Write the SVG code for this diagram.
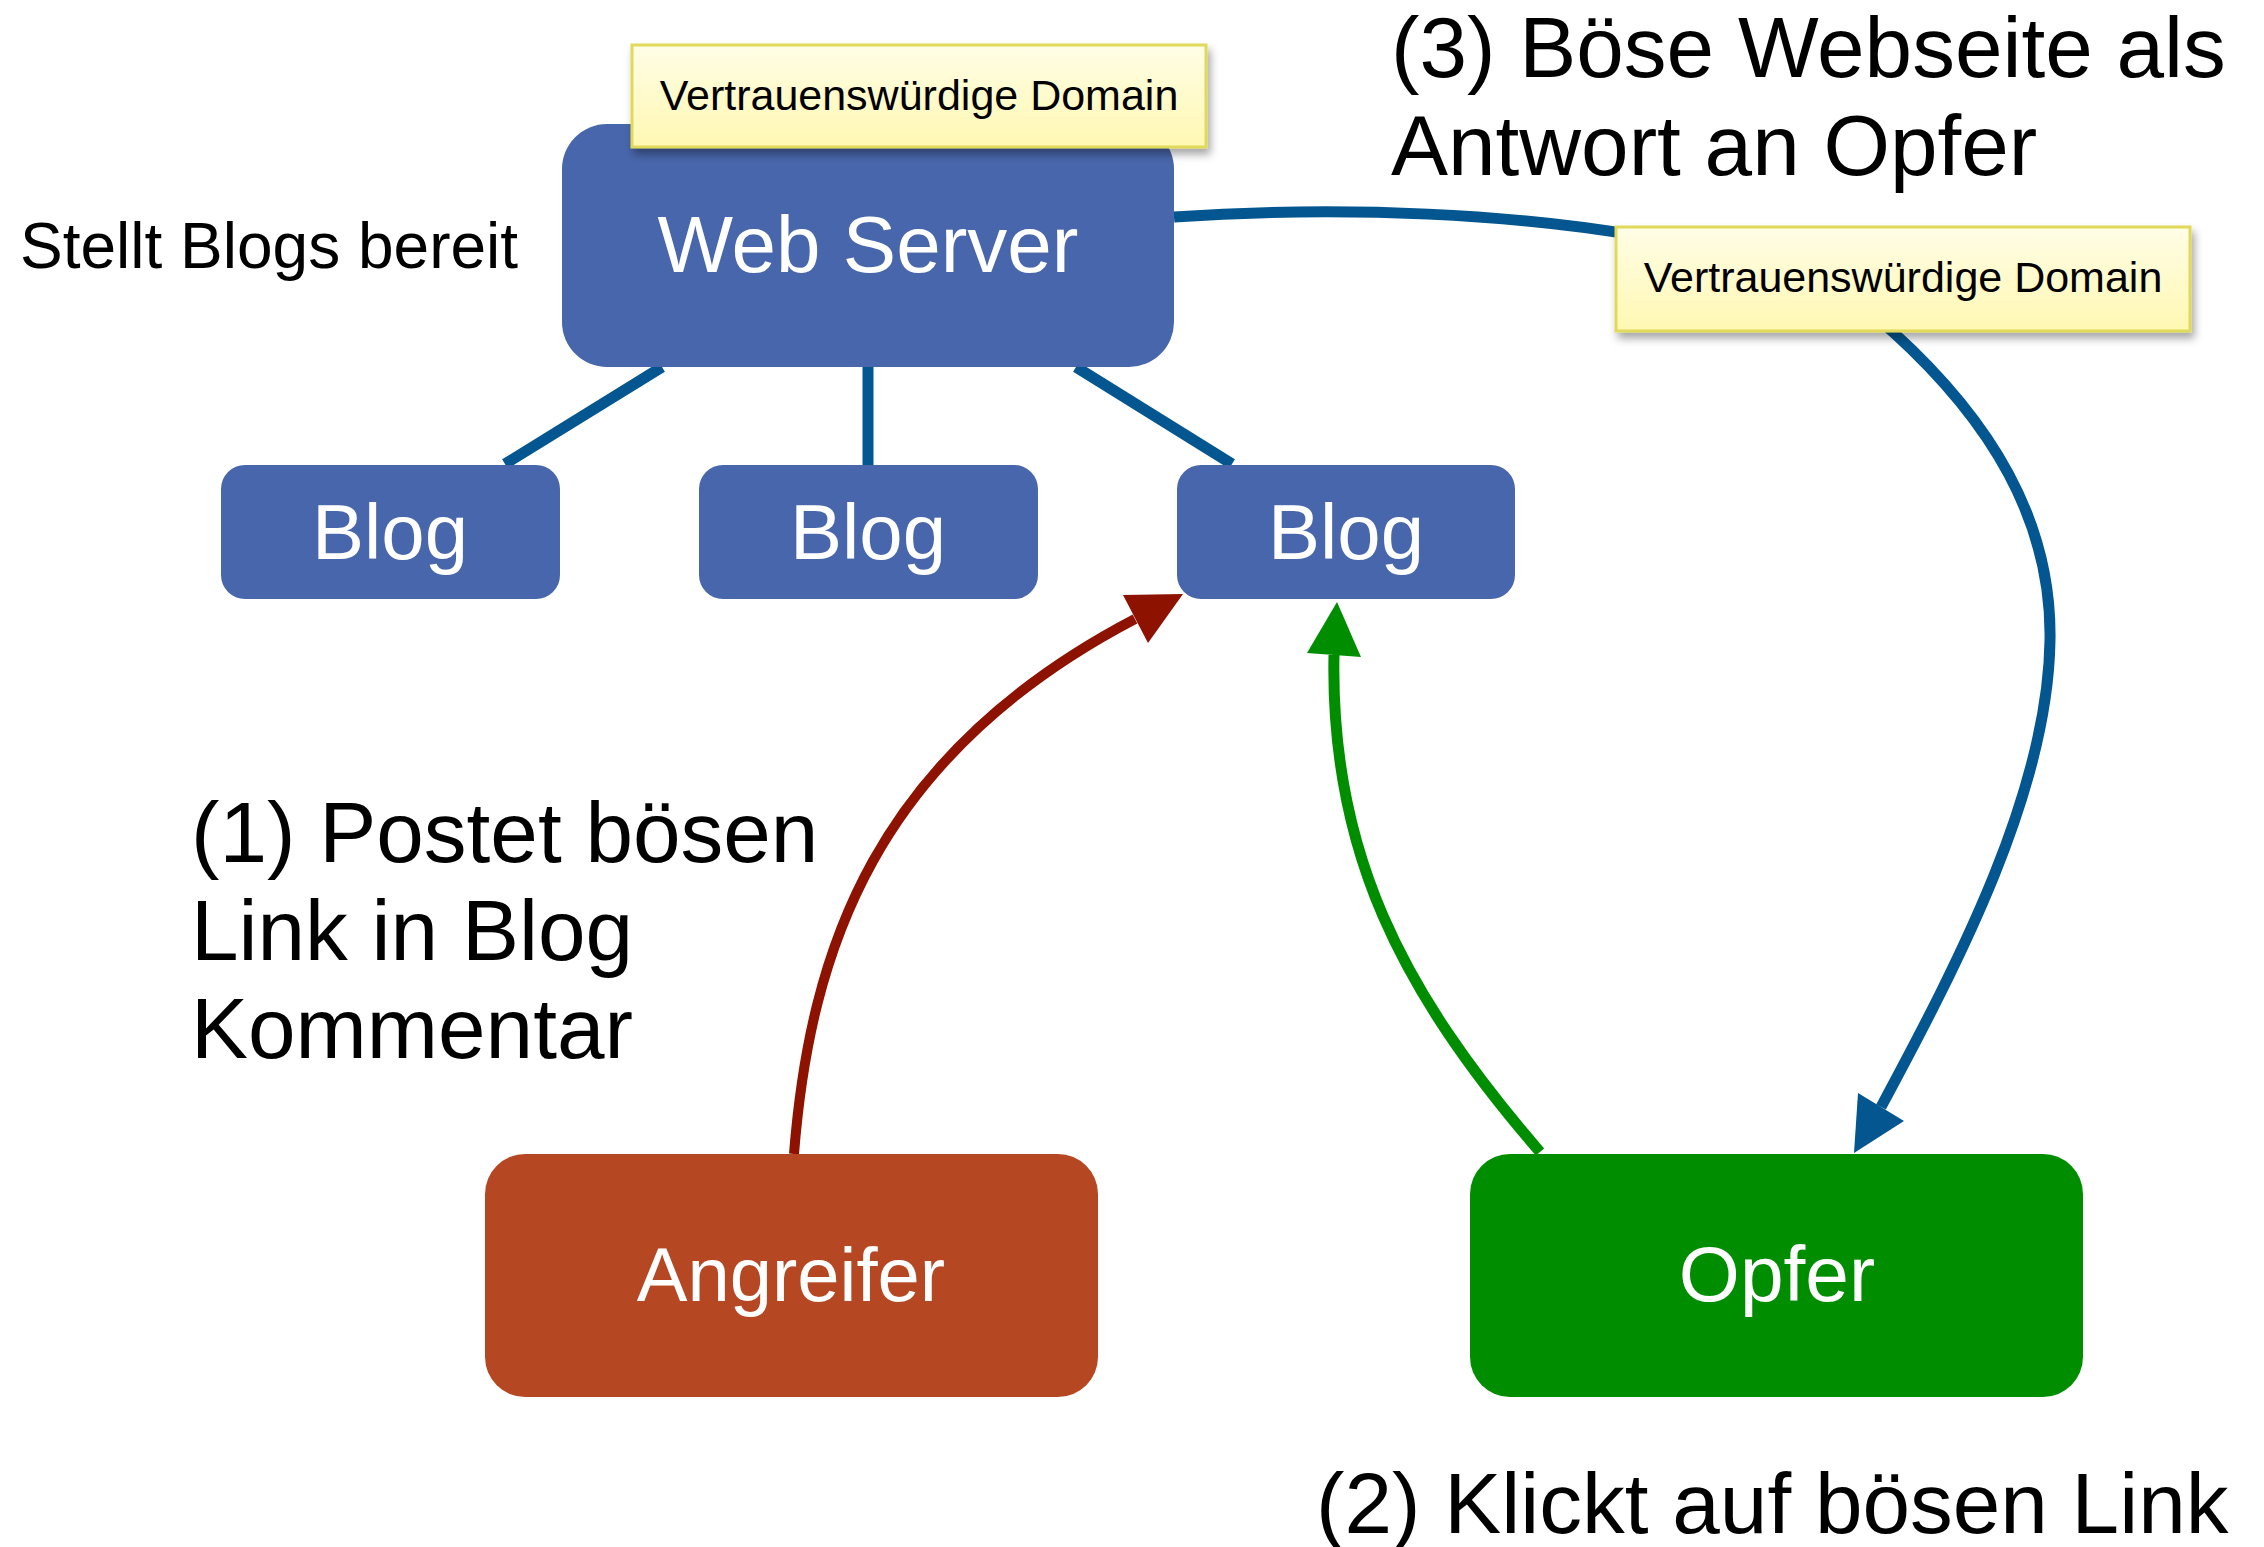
<svg xmlns="http://www.w3.org/2000/svg" width="2264" height="1547" viewBox="0 0 2264 1547">
<style>
  text { font-family: "Liberation Sans", Arial, sans-serif; }
  .box-blue { fill: #4866AB; }
  .wt { fill: #FFFFFF; text-anchor: middle; }
  .bt { fill: #000000; }
  .big { font-size: 85.5px; }
  .note { fill: url(#noteGrad); stroke: #E0D95A; stroke-width: 3; filter: url(#shadow); }
  .tree { stroke: #03568F; stroke-width: 11; fill: none; }
</style>
<defs>
  <linearGradient id="noteGrad" x1="0" y1="0" x2="0" y2="1">
    <stop offset="0" stop-color="#FFFDE6"/>
    <stop offset="1" stop-color="#FFF8B2"/>
  </linearGradient>
  <filter id="shadow" x="-10%" y="-20%" width="125%" height="160%">
    <feDropShadow dx="3" dy="6" stdDeviation="4" flood-color="#000000" flood-opacity="0.35"/>
  </filter>
</defs>
<rect width="2264" height="1547" fill="#FFFFFF"/>

<g id="connectors">
  <line class="tree" x1="662" y1="367" x2="505" y2="464"/>
  <line class="tree" x1="868" y1="367" x2="868" y2="465"/>
  <line class="tree" x1="1076" y1="367" x2="1232" y2="464"/>
  <path d="M1174,217 C1350,205 1520,215 1640,236 C1760,258 1850,290 1893,332 C1990,420 2052,520 2050,640 C2048,790 1960,960 1881,1107" stroke="#03568F" stroke-width="11" fill="none"/>
  <polygon points="1854,1153 1858,1093 1904,1121" fill="#03568F"/>
  <path d="M794,1154 C810,950 875,755 1135,619" stroke="#8E1200" stroke-width="10" fill="none"/>
  <polygon points="1183,594 1123,595 1148,643" fill="#8E1200"/>
  <path d="M1540,1152 C1400,990 1330,850 1334,655" stroke="#008E00" stroke-width="11" fill="none"/>
  <polygon points="1337,602 1307,653 1361,657" fill="#008E00"/>
</g>

<g id="webserver">
  <rect class="box-blue" x="562" y="124" width="612" height="243" rx="45"/>
  <text class="wt" x="868" y="272" font-size="80">Web Server</text>
</g>

<g id="label-domain-1">
  <rect class="note" x="632" y="45" width="574" height="102"/>
  <text class="bt" x="919" y="110" font-size="43" text-anchor="middle">Vertrauenswürdige Domain</text>
</g>

<g id="label-stellt">
  <text class="bt" x="20" y="268" font-size="64">Stellt Blogs bereit</text>
</g>

<g id="blog1">
  <rect class="box-blue" x="221" y="465" width="339" height="134" rx="24"/>
  <text class="wt" x="390" y="559" font-size="78">Blog</text>
</g>
<g id="blog2">
  <rect class="box-blue" x="699" y="465" width="339" height="134" rx="24"/>
  <text class="wt" x="868" y="559" font-size="78">Blog</text>
</g>
<g id="blog3">
  <rect class="box-blue" x="1177" y="465" width="338" height="134" rx="24"/>
  <text class="wt" x="1346" y="559" font-size="78">Blog</text>
</g>

<g id="label-domain-2">
  <rect class="note" x="1616" y="227" width="574" height="104"/>
  <text class="bt" x="1903" y="292" font-size="43" text-anchor="middle">Vertrauenswürdige Domain</text>
</g>

<g id="label-step3">
  <text class="bt big" x="1391" y="77">(3) Böse Webseite als</text>
  <text class="bt big" x="1391" y="175">Antwort an Opfer</text>
</g>

<g id="label-step1">
  <text class="bt big" x="191" y="862">(1) Postet bösen</text>
  <text class="bt big" x="191" y="960">Link in Blog</text>
  <text class="bt big" x="191" y="1058">Kommentar</text>
</g>

<g id="angreifer">
  <rect x="485" y="1154" width="613" height="243" rx="40" fill="#B54823"/>
  <text class="wt" x="791" y="1301" font-size="76">Angreifer</text>
</g>

<g id="opfer">
  <rect x="1470" y="1154" width="613" height="243" rx="40" fill="#008E00"/>
  <text class="wt" x="1777" y="1301" font-size="78.5">Opfer</text>
</g>

<g id="label-step2">
  <text class="bt big" x="1316" y="1533">(2) Klickt auf bösen Link</text>
</g>
</svg>
